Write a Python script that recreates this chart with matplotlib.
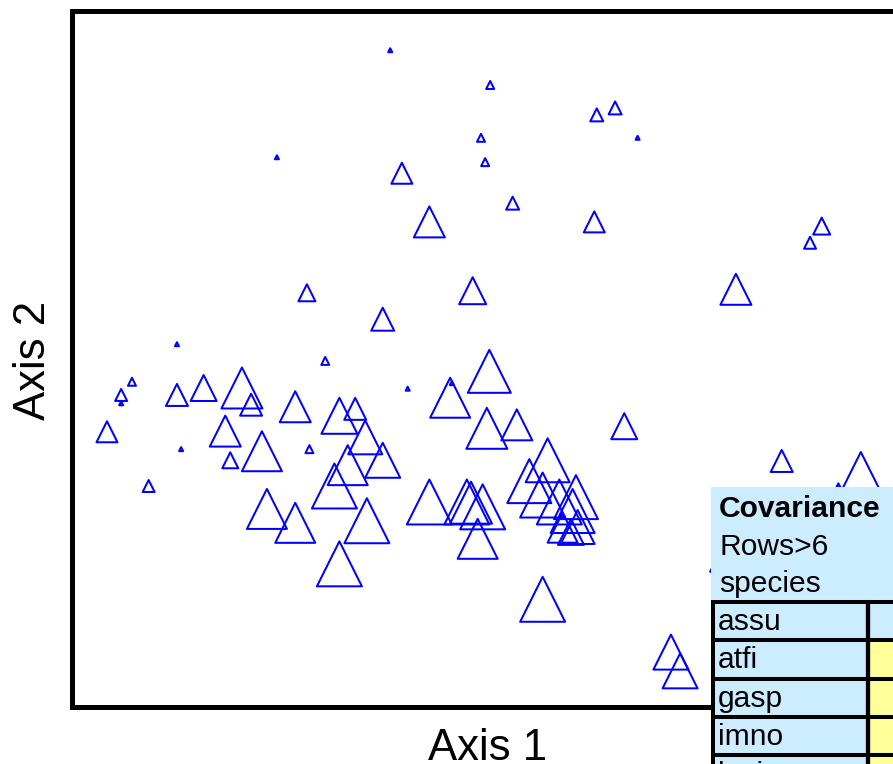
import matplotlib
matplotlib.use("Agg")
import matplotlib.pyplot as plt
from matplotlib.patches import Rectangle

plt.rcParams['font.family'] = ['Liberation Sans', 'DejaVu Sans']

# Ordination scores (arbitrary axis units, 0-100) and symbol size (pixel height)
axis1 = [38.2, 50.2, 63.0, 65.2, 67.9, 49.1, 24.6, 49.6, 39.6, 52.9,
         42.9, 62.7, 90.0, 88.6, 79.7, 48.1, 28.2, 37.3, 12.6, 30.4,
         50.1, 40.3, 45.6, 45.4, 7.2, 5.9, 5.9, 12.6, 15.8, 20.4,
         21.5, 26.8, 32.1, 34.0, 35.2, 37.3, 33.1, 31.5, 35.4, 32.1,
         26.8, 23.4, 22.8, 18.4, 19.0, 4.2, 9.2, 13.1, 28.5, 42.9,
         49.8, 53.4, 66.3, 47.4, 47.9, 49.3, 48.7, 57.1, 54.9, 56.5,
         58.5, 60.5, 60.1, 58.9, 60.7, 59.9, 58.8, 56.5, 71.9, 73.0,
         85.2, 94.7, 92.0, 77.8]
axis2 = [94.5, 89.5, 85.2, 86.2, 81.9, 81.9, 79.1, 78.4, 76.8, 72.5,
         69.8, 69.8, 69.2, 66.8, 60.1, 59.9, 59.6, 55.8, 52.2, 49.8,
         48.3, 45.8, 46.6, 44.5, 46.8, 44.9, 43.7, 44.9, 45.9, 45.9,
         43.5, 43.2, 41.9, 42.9, 38.8, 35.5, 34.8, 31.8, 26.8, 20.6,
         26.5, 28.5, 36.8, 39.7, 35.5, 39.6, 31.8, 37.1, 37.1, 29.5,
         40.1, 40.6, 40.4, 29.5, 29.4, 28.8, 24.2, 35.5, 32.5, 30.5,
         29.5, 30.2, 28.2, 25.8, 25.9, 25.2, 27.6, 15.5, 7.9, 5.2,
         35.4, 34.1, 31.9, 20.9]
symbol_px = [6, 10, 15, 15, 6, 10, 6, 10, 23, 15,
             33, 23, 19, 14, 33, 29, 19, 25, 6, 10,
             45, 6, 6, 42, 10, 14, 6, 24, 28, 43,
             24, 33, 38, 24, 36, 37, 42, 47, 47, 47,
             42, 42, 42, 33, 18, 23, 14, 6, 10, 47,
             43, 33, 28, 47, 44, 47, 42, 46, 46, 47,
             47, 46, 46, 32, 36, 28, 6, 47, 37, 37,
             24, 38, 6, 22]

table_title = ["Covariance", "Rows>6", "species"]
table_rows = ["assu", "atfi", "gasp", "imno", "lasi"]
row_fill = ["#CCECFF", "#FFFF99", "#FFFF99", "#FFFF99", "#FFFF99"]

W, H = 893, 764
fig = plt.figure(figsize=(W / 100, H / 100), dpi=100)

left, right, top, bottom = 72, 905, 10.5, 706.5
ax = fig.add_axes([left / W, (H - bottom) / H, (right - left) / W, (bottom - top) / H])
ax.set_xlim(0, 100)
ax.set_ylim((707 - 706.5) / 6.95, (707 - 10.5) / 6.95)

sizes = [(max(h - 2.0, 3.0) * 0.72) ** 2 for h in symbol_px]
ax.scatter(axis1, axis2, s=sizes, marker='^', facecolors='none',
           edgecolors='#0000FF', linewidths=1.45, zorder=3)

ax.set_xticks([])
ax.set_yticks([])
for sp in ax.spines.values():
    sp.set_linewidth(3.6)
    sp.set_color('black')

fig.text(488, H - 760, "Axis 1", transform=None, fontsize=31.5,
         ha='center', va='baseline')
fig.text(45, H - 360, "Axis 2", transform=None, fontsize=31.5,
         ha='center', va='baseline', rotation=90, rotation_mode='anchor')

# Table overlay in pixel coordinates
ov = fig.add_axes([0, 0, 1, 1])
ov.set_xlim(0, W)
ov.set_ylim(H, 0)
ov.axis('off')
ov.patch.set_alpha(0)

lb = "#CCECFF"
ov.add_patch(Rectangle((711, 487), 200, 115, facecolor=lb, edgecolor='none', zorder=1))
row_top = 602
row_h = 38.3
col_x = 868
for i, (lab, fc) in enumerate(zip(table_rows, row_fill)):
    y0 = row_top + i * row_h
    ov.add_patch(Rectangle((711, y0), col_x - 711, row_h, facecolor=lb, edgecolor='none', zorder=1))
    ov.add_patch(Rectangle((col_x, y0), 100, row_h, facecolor=fc, edgecolor='none', zorder=1))
    ov.text(718, y0 + 28, lab, fontsize=21.6, ha='left', va='baseline', zorder=3)
    ov.plot([711, 910], [y0, y0], color='black', lw=2.9, zorder=2, solid_capstyle='butt')
ov.plot([712.5, 712.5], [row_top - 1.5, 800], color='black', lw=2.9, zorder=2, solid_capstyle='butt')
ov.plot([col_x, col_x], [row_top - 1.5, 800], color='black', lw=3.1, zorder=2, solid_capstyle='butt')

ov.text(719, 517, table_title[0], fontsize=21.6, fontweight='bold', ha='left', va='baseline', zorder=3)
ov.text(719, 555, table_title[1], fontsize=21.6, ha='left', va='baseline', zorder=3)
ov.text(719, 592, table_title[2], fontsize=21.6, ha='left', va='baseline', zorder=3)

fig.savefig("out.png", dpi=100)
